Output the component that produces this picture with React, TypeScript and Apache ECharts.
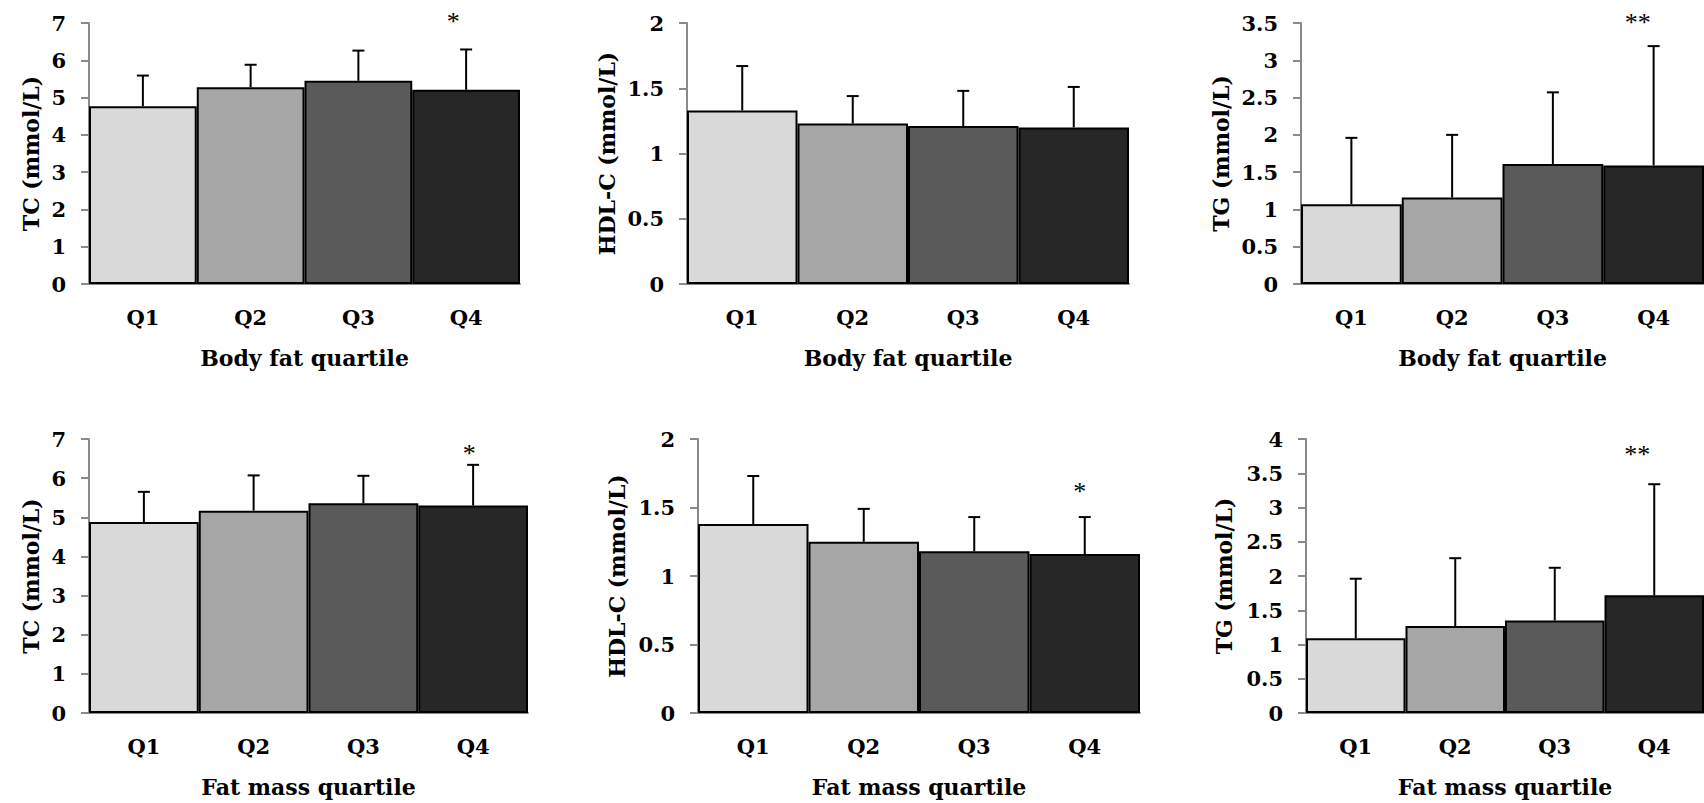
import React, { useEffect, useRef } from "react";
import * as echarts from "echarts";

const categories = ["Q1", "Q2", "Q3", "Q4"];
const barColors = ["#d9d9d9", "#a6a6a6", "#5a5a5a", "#272727"];

// Body fat quartile
const tcBodyMean = [4.77, 5.28, 5.45, 5.21];
const tcBodySD = [0.82, 0.6, 0.81, 1.08];
const hdlBodyMean = [1.33, 1.23, 1.21, 1.2];
const hdlBodySD = [0.34, 0.21, 0.27, 0.31];
const tgBodyMean = [1.07, 1.16, 1.61, 1.59];
const tgBodySD = [0.89, 0.84, 0.96, 1.6];

// Fat mass quartile
const tcMassMean = [4.88, 5.17, 5.36, 5.3];
const tcMassSD = [0.77, 0.9, 0.7, 1.04];
const hdlMassMean = [1.38, 1.25, 1.18, 1.16];
const hdlMassSD = [0.35, 0.24, 0.25, 0.27];
const tgMassMean = [1.09, 1.27, 1.35, 1.72];
const tgMassSD = [0.87, 0.99, 0.77, 1.62];

// significance marks and their heights (axis units)
const tcBodyMarks = ["", "", "", "*"];
const hdlBodyMarks = ["", "", "", ""];
const tgBodyMarks = ["", "", "", "**"];
const tcMassMarks = ["", "", "", "*"];
const hdlMassMarks = ["", "", "", "*"];
const tgMassMarks = ["", "", "", "**"];
const markLevels = [7.17, 0, 3.58, 6.75, 1.65, 3.84];
const markShift = [-13, 0, -16, -4, -5, -17];

const yMax = [7, 2, 3.5, 7, 2, 4];
const yInterval = [1, 0.5, 0.5, 1, 0.5, 0.5];
const yNames = ["TC (mmol/L)", "HDL-C (mmol/L)", "TG (mmol/L)", "TC (mmol/L)", "HDL-C (mmol/L)", "TG (mmol/L)"];
const xNames = ["Body fat quartile", "Body fat quartile", "Body fat quartile", "Fat mass quartile", "Fat mass quartile", "Fat mass quartile"];

const panels = [
  { mean: tcBodyMean, sd: tcBodySD, marks: tcBodyMarks },
  { mean: hdlBodyMean, sd: hdlBodySD, marks: hdlBodyMarks },
  { mean: tgBodyMean, sd: tgBodySD, marks: tgBodyMarks },
  { mean: tcMassMean, sd: tcMassSD, marks: tcMassMarks },
  { mean: hdlMassMean, sd: hdlMassSD, marks: hdlMassMarks },
  { mean: tgMassMean, sd: tgMassSD, marks: tgMassMarks },
];

const grids = [
  { left: 89, top: 23, width: 431, height: 261 },
  { left: 687, top: 23, width: 442, height: 261 },
  { left: 1301, top: 23, width: 412, height: 261 },
  { left: 89, top: 439, width: 439, height: 274 },
  { left: 698, top: 439, width: 442, height: 274 },
  { left: 1306, top: 439, width: 406, height: 274 },
];
const yNameGaps = [47, 69, 69, 47, 70, 71];

const FONT = "DejaVu Serif";
const MARK_FONT = "Liberation Serif";
const AXIS_GRAY = "#8a8a8a";

export default function App() {
  const ref = useRef<HTMLDivElement>(null);

  useEffect(() => {
    if (!ref.current) return;
    const chart = echarts.init(ref.current, undefined, { renderer: "svg" });

    const xAxis: any[] = [];
    const yAxis: any[] = [];
    const series: any[] = [];

    panels.forEach((p, k) => {
      xAxis.push({
        type: "category",
        gridIndex: k,
        data: categories,
        boundaryGap: true,
        axisLine: { show: true, lineStyle: { color: AXIS_GRAY, width: 2 } },
        axisTick: { show: false },
        axisLabel: {
          margin: 23,
          color: "#000",
          fontFamily: FONT,
          fontWeight: "bold",
          fontSize: 21,
        },
        name: xNames[k],
        nameLocation: "middle",
        nameGap: 63,
        nameTextStyle: { color: "#000", fontFamily: FONT, fontWeight: "bold", fontSize: 22 },
      });
      yAxis.push({
        type: "value",
        gridIndex: k,
        min: 0,
        max: yMax[k],
        interval: yInterval[k],
        splitLine: { show: false },
        axisLine: { show: true, lineStyle: { color: AXIS_GRAY, width: 2 } },
        axisTick: { show: true, length: 8, lineStyle: { color: AXIS_GRAY, width: 2 } },
        axisLabel: {
          margin: 23,
          color: "#000",
          fontFamily: FONT,
          fontWeight: "bold",
          fontSize: 21,
        },
        name: yNames[k],
        nameLocation: "middle",
        nameGap: yNameGaps[k],
        nameTextStyle: { color: "#000", fontFamily: FONT, fontWeight: "bold", fontSize: 22 },
      });
      series.push({
        type: "bar",
        xAxisIndex: k,
        yAxisIndex: k,
        barCategoryGap: "0%",
        data: p.mean.map((v, i) => ({
          value: v,
          itemStyle: { color: barColors[i], borderColor: "#000", borderWidth: 2 },
        })),
      });
      series.push({
        type: "custom",
        xAxisIndex: k,
        yAxisIndex: k,
        data: p.mean.map((v, i) => [i, v, v + p.sd[i]]),
        encode: { x: 0, y: [1, 2] },
        renderItem: (params: any, api: any) => {
          const x = api.value(0);
          const p0 = api.coord([x, api.value(1)]);
          const p1 = api.coord([x, api.value(2)]);
          return {
            type: "group",
            children: [
              {
                type: "line",
                shape: { x1: p0[0], y1: p0[1], x2: p1[0], y2: p1[1] },
                style: { stroke: "#000", lineWidth: 2 },
              },
              {
                type: "line",
                shape: { x1: p1[0] - 6, y1: p1[1], x2: p1[0] + 6, y2: p1[1] },
                style: { stroke: "#000", lineWidth: 2 },
              },
            ],
          };
        },
        z: 3,
      });
      const markData = p.marks
        .map((m, i) => (m ? [i, markLevels[k]] : null))
        .filter((d) => d !== null);
      if (markData.length) {
        series.push({
          type: "custom",
          xAxisIndex: k,
          yAxisIndex: k,
          data: markData,
          clip: false,
          renderItem: (params: any, api: any) => {
            const i = api.value(0);
            const pt = api.coord([i, api.value(1)]);
            return {
              type: "text",
              x: pt[0] + markShift[k],
              y: pt[1] + 5,
              style: {
                text: p.marks[i],
                fill: "#000",
                font: `normal 26px "${MARK_FONT}"`,
                textAlign: "center",
                textVerticalAlign: "middle",
              },
            };
          },
          z: 4,
        });
      }
    });

    chart.setOption({
      animation: false,
      backgroundColor: "#fff",
      grid: grids,
      xAxis,
      yAxis,
      series,
    });

    return () => chart.dispose();
  }, []);

  return (
    <div
      ref={ref}
      style={{ position: "fixed", left: 0, top: 0, width: 1704, height: 803, background: "#fff" }}
    />
  );
}
